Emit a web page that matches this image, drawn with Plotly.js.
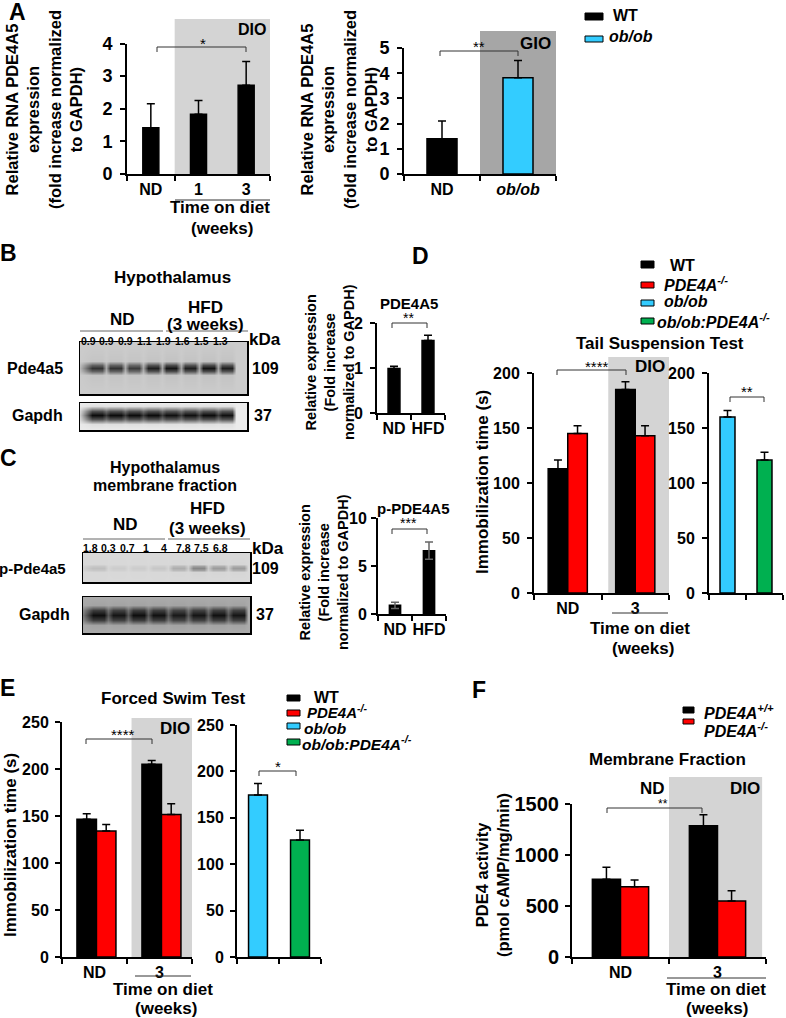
<!DOCTYPE html>
<html><head><meta charset="utf-8">
<script src="https://cdn.plot.ly/plotly-3.0.1.min.js"></script>
<style>html,body{margin:0;padding:0;background:#fff}#chart{width:786px;height:1018px}</style>
</head><body><div id="chart"></div>
<script>
// ---------------- DATA ----------------
const A_diet = ['ND', '1', '3'];
const A_dio_mean = [1.42, 1.83, 2.72];
const A_dio_sem = [0.73, 0.42, 0.73];
const A_gio_groups = ['ND', 'ob/ob'];
const A_gio_mean = [1.4, 3.82];
const A_gio_sem = [0.7, 0.68];

const B_groups = ['ND', 'HFD'];
const B_mean = [0.99, 1.61];
const B_sem = [0.05, 0.12];
const C_mean = [0.9, 6.6];
const C_sem = [0.33, 0.9];

const blotB_quant = [0.9, 0.9, 0.9, 1.1, 1.9, 1.6, 1.5, 1.3];
const blotC_quant = [1.8, 0.3, 0.7, 1, 4, 7.8, 7.5, 6.8];
const blotB_pde = [0.75, 0.75, 0.7, 0.85, 0.9, 0.85, 0.9, 0.85];
const blotB_gapdh = [0.95, 0.95, 0.95, 0.95, 0.93, 0.93, 0.95, 0.93];
const blotC_pde = [0.12, 0.06, 0.06, 0.08, 0.2, 0.38, 0.28, 0.28];
const blotC_gapdh = [0.92, 0.88, 0.92, 0.9, 0.85, 0.88, 0.9, 0.88];

const diet2 = ['ND', '3'];
const D_wt = [113, 185];   const D_wt_sem = [8, 7];
const D_ko = [145, 143];   const D_ko_sem = [7, 9];
const ob_groups = ['ob/ob', 'ob/ob:PDE4A-/-'];
const D_ob = [160, 121];   const D_ob_sem = [6, 7];

const E_wt = [146.5, 205]; const E_wt_sem = [6, 4];
const E_ko = [134, 151.5]; const E_ko_sem = [7, 11.5];
const E_ob = [174.5, 126]; const E_ob_sem = [12.5, 10.5];

const F_wt = [762, 1286];  const F_wt_sem = [118, 109];
const F_ko = [689, 548];   const F_ko_sem = [66, 102];

// ---------------- HELPERS ----------------
const W = 786, H = 1018;
const X = p => p / W, Y = p => 1 - p / H;
const FONT = '"Liberation Sans", Arial, Helvetica, sans-serif';
const BLUE = '#33ccff', RED = '#ff0000', GREEN = '#00b050', BLACK = '#000000';
const xa = k => k === 1 ? 'x' : 'x' + k;
const ya = k => k === 1 ? 'y' : 'y' + k;

const traces = [];
const layout = {
  width: W, height: H, margin: {l: 0, r: 0, t: 0, b: 0},
  paper_bgcolor: '#ffffff', plot_bgcolor: 'rgba(0,0,0,0)',
  showlegend: false, barmode: 'overlay',
  font: {family: FONT, size: 15, color: '#000', weight: 'bold'},
  shapes: [], annotations: []
};

function barTrace(k, cats, vals, sem, color, width, offset, errColor, sym) {
  return {
    type: 'bar', xaxis: xa(k), yaxis: ya(k),
    x: cats.map((c, i) => i + 0.5), y: vals, width: width, offset: offset,
    marker: {color: color, line: {color: '#000', width: 1.5}},
    error_y: sym ? {type: 'data', array: sem, symmetric: true, color: errColor || '#000', thickness: 1.5, width: 4}
                 : {type: 'data', array: sem, arrayminus: sem.map(() => 0), symmetric: false, color: errColor || '#000', thickness: 1.5, width: 4},
    hoverinfo: 'skip', showlegend: false
  };
}

const subplots = [
  {k: 1, px: [127, 270], py: [174, 43.5], yr: [0, 4], dt: 1, cats: A_diet, minor: [0, 1, 3], tf: 18, so: 4},
  {k: 2, px: [404, 556], py: [174, 48], yr: [0, 5], dt: 1, cats: A_gio_groups, minor: [0, 1, 2], tf: 18, so: 4},
  {k: 3, px: [377, 445], py: [413, 323], yr: [0, 2], dt: 1, cats: B_groups, minor: [0, 1, 2], tf: 16, so: 4},
  {k: 4, px: [378, 446], py: [614, 518], yr: [0, 10], dt: 5, cats: B_groups, minor: [0, 1, 2], tf: 16, so: 1},
  {k: 5, px: [534, 669], py: [593, 373], yr: [0, 200], dt: 50, cats: diet2, minor: [0, 1, 2], tf: 16, so: 4},
  {k: 6, px: [709, 783], py: [593, 373], yr: [0, 200], dt: 50, cats: ob_groups, hideX: true, minor: [0, 1, 2], tf: 16, so: 4},
  {k: 7, px: [62, 192], py: [957, 722], yr: [0, 250], dt: 50, cats: diet2, minor: [0, 1, 2], tf: 16, so: 3},
  {k: 8, px: [237, 321], py: [957, 725], yr: [0, 250], dt: 50, cats: ob_groups, hideX: true, minor: [0, 1, 2], tf: 16, so: 3},
  {k: 9, px: [572, 766], py: [957, 804], yr: [0, 1500], dt: 500, cats: diet2, minor: [0, 1, 2], tf: 20, so: 2}
];

subplots.forEach(s => {
  const xk = s.k === 1 ? 'xaxis' : 'xaxis' + s.k;
  const yk = s.k === 1 ? 'yaxis' : 'yaxis' + s.k;
  layout[xk] = {
    domain: [X(s.px[0]), X(s.px[1])], range: [0, s.cats.length], anchor: ya(s.k),
    showline: true, linecolor: '#000', linewidth: 2, showgrid: false, zeroline: false, fixedrange: true,
    tickmode: 'array', tickvals: s.cats.map((c, i) => i + 0.5),
    ticktext: s.cats.map(c => c.indexOf('ob/ob') === 0 ? '<i>' + c + '</i>' : c),
    showticklabels: !s.hideX, ticks: 'outside', ticklen: 0, tickcolor: '#000',
    tickfont: {family: FONT, size: 16, color: '#000', weight: 'bold'},
    minor: {tickmode: 'array', tickvals: s.minor, ticks: 'outside', ticklen: 5, tickwidth: 2, tickcolor: '#000', showgrid: false}
  };
  layout[yk] = {
    domain: [Y(s.py[0]), Y(s.py[1])], range: s.yr, anchor: xa(s.k),
    showline: true, linecolor: '#000', linewidth: 2, showgrid: false, zeroline: false, fixedrange: true,
    tickmode: 'linear', tick0: 0, dtick: s.dt, ticks: 'outside', ticklen: 5, tickwidth: 2, tickcolor: '#000',
    ticklabelstandoff: s.so,
    tickfont: {family: FONT, size: s.tf, color: '#000', weight: 'bold'}
  };
});

// ---- bars ----
traces.push(barTrace(1, A_diet, A_dio_mean, A_dio_sem, BLACK, 0.336, -0.168));
traces.push(barTrace(2, A_gio_groups, A_gio_mean, A_gio_sem, [BLACK, BLUE], 0.395, -0.1975));
traces.push(barTrace(3, B_groups, B_mean, B_sem, BLACK, 0.35, -0.175));
traces.push(barTrace(4, B_groups, C_mean, C_sem, BLACK, 0.33, -0.165, '#666', true));
traces.push(barTrace(5, diet2, D_wt, D_wt_sem, BLACK, 0.29, -0.29));
traces.push(barTrace(5, diet2, D_ko, D_ko_sem, RED, 0.29, 0));
traces.push(barTrace(6, ob_groups, D_ob, D_ob_sem, [BLUE, GREEN], 0.405, -0.2025));
traces.push(barTrace(7, diet2, E_wt, E_wt_sem, BLACK, 0.3, -0.27));
traces.push(barTrace(7, diet2, E_ko, E_ko_sem, RED, 0.3, 0.03));
traces.push(barTrace(8, ob_groups, E_ob, E_ob_sem, [BLUE, GREEN], 0.45, -0.225));
traces.push(barTrace(9, diet2, F_wt, F_wt_sem, BLACK, 0.29, -0.29));
traces.push(barTrace(9, diet2, F_ko, F_ko_sem, RED, 0.29, 0));

// ---- blots (heatmaps) ----
function blotTrace(k, lanes, bg, gapF, c, h) {
  const xs = [0], cw = [0];
  lanes.forEach((v, i) => {
    const L = 2 * i + 2;
    const nx = i < lanes.length - 1 ? lanes[i + 1] : 0;
    xs.push(L - 0.55, L + 0.55, L + 1);
    cw.push(v, v, i < lanes.length - 1 ? gapF * (v + nx) / 2 : 0);
  });
  xs.push(18); cw.push(0);
  const ys = [0, c - 1.6 * h, c - 0.8 * h, c, c + 0.8 * h, c + 1.6 * h, 1];
  const rw = [0, 0.05, 0.7, 1, 0.7, 0.05, 0];
  const z = ys.map((_, r) => cw.map(w => bg + (1 - bg) * rw[r] * w));
  return {type: 'heatmap', xaxis: xa(k), yaxis: ya(k), x: xs, y: ys, z: z, zmin: 0, zmax: 1,
    zsmooth: 'best', colorscale: [[0, '#ffffff'], [1, '#000000']], showscale: false, hoverinfo: 'skip'};
}
const blots = [
  {k: 10, px: [80, 247], py: [394, 342], xr: [0.17, 18.15], lanes: blotB_pde, bg: 0.2, gap: 0.25, c: 0.5, h: 0.08},
  {k: 11, px: [80, 247], py: [430, 403], xr: [0.17, 18.15], lanes: blotB_gapdh, bg: 0.08, gap: 0.8, c: 0.556, h: 0.2},
  {k: 12, px: [83, 250], py: [582, 553], xr: [0.5, 17.2], lanes: blotC_pde, bg: 0.15, gap: 0.2, c: 0.48, h: 0.09},
  {k: 13, px: [83, 250], py: [633, 597], xr: [0.5, 17.2], lanes: blotC_gapdh, bg: 0.33, gap: 0.55, c: 0.5, h: 0.17}
];
blots.forEach(b => {
  traces.push(blotTrace(b.k, b.lanes, b.bg, b.gap, b.c, b.h));
  const common = {showline: true, mirror: true, linecolor: '#000', linewidth: 1.5, showgrid: false,
    zeroline: false, ticks: '', showticklabels: false, fixedrange: true};
  layout['xaxis' + b.k] = Object.assign({domain: [X(b.px[0]), X(b.px[1])], range: b.xr, anchor: ya(b.k)}, common);
  layout['yaxis' + b.k] = Object.assign({domain: [Y(b.py[0]), Y(b.py[1])], range: [0, 1], anchor: xa(b.k)}, common);
});

// ---------------- SHAPES ----------------
const S = layout.shapes;
function shade(k, x0, x1, yTop, yBot, color) {
  S.push({type: 'rect', xref: xa(k), yref: 'paper', x0: x0, x1: x1, y0: Y(yBot), y1: Y(yTop),
    fillcolor: color, line: {width: 0}, layer: 'below'});
}
shade(1, 1, 3, 19, 174, '#d4d4d4');
shade(2, 1, 2, 31, 174, '#a6a6a6');
shade(5, 1.1, 2, 357, 593, '#d4d4d4');
shade(7, 1.07, 2, 718, 957, '#d4d4d4');
shade(9, 1.0, 1.96, 777, 957, '#d4d4d4');

function hline(a, b, y, color) {
  S.push({type: 'line', xref: 'paper', yref: 'paper', x0: X(a), x1: X(b), y0: Y(y), y1: Y(y),
    line: {color: color || '#333', width: 1}});
}
function bracket(a, b, y) {
  S.push({type: 'path', xref: 'paper', yref: 'paper',
    path: `M${X(a)},${Y(y + 5)} L${X(a)},${Y(y)} L${X(b)},${Y(y)} L${X(b)},${Y(y + 5)}`,
    line: {color: '#333', width: 1}});
}
function lrect(a, b, t, bt, color) {
  S.push({type: 'rect', xref: 'paper', yref: 'paper', x0: X(a), x1: X(b), y0: Y(bt), y1: Y(t),
    fillcolor: color, line: {color: '#000', width: 1}});
}
// underlines
hline(175, 270, 200); hline(612, 668, 613); hline(135, 191, 976); hline(667, 766, 978);
hline(80, 163, 331, '#666'); hline(166, 248, 331, '#666');
hline(83, 165, 539, '#666'); hline(168, 250, 539, '#666');
// brackets
bracket(157, 246, 47); bracket(440, 518, 51); bracket(392, 427, 323); bracket(392, 427, 529);
bracket(557, 626, 370); bracket(730, 764, 397); bracket(86, 152, 739); bracket(259, 296, 771);
bracket(607, 702, 808);
// legends
lrect(585, 603, 13, 20, BLACK); lrect(585, 603, 36, 42, BLUE);
lrect(641, 654, 261, 268, BLACK); lrect(641, 654, 282, 288, RED); lrect(641, 654, 300, 306, BLUE); lrect(641, 654, 318, 324, GREEN);
lrect(287, 300, 695, 701, BLACK); lrect(287, 300, 710, 716, RED); lrect(287, 300, 723, 729, BLUE); lrect(287, 300, 739, 745, GREEN);
lrect(683, 694, 707, 713, BLACK); lrect(683, 694, 719, 724, RED);

// ---------------- ANNOTATIONS ----------------
const A = layout.annotations;
function T(text, x, y, size, o) {
  o = o || {};
  A.push({text: text, x: X(x), y: Y(y), xref: 'paper', yref: 'paper', showarrow: false,
    xanchor: o.anchor || 'center', yanchor: 'middle', textangle: o.angle || 0, align: 'center',
    font: {family: FONT, size: size, color: '#000', weight: o.weight || 'bold'}});
}
// panel letters
T('A', 17, 12, 23); T('B', 8, 253, 23); T('C', 8, 458, 23); T('D', 420, 256, 23); T('E', 7, 688, 23); T('F', 479, 690, 23);
// A
const aTitle = 'Relative RNA PDE4A5<br>expression<br>(fold increase normalized<br>to GAPDH)';
T(aTitle, 44, 110, 16.5, {angle: -90});
T(aTitle, 339, 110, 16.5, {angle: -90});
T('DIO', 268, 30, 16, {anchor: 'right'});
T('GIO', 553, 43, 17, {anchor: 'right'});
T('*', 203, 43, 15, {weight: 'normal'});
T('**', 479, 46, 15, {weight: 'normal'});
T('Time on diet', 220, 208, 17); T('(weeks)', 222, 228, 17);
T('WT', 611, 15, 16, {anchor: 'left'}); T('<i>ob/ob</i>', 607, 36, 16, {anchor: 'left'});
// B
T('Hypothalamus', 172, 277, 17);
T('ND', 122, 320, 17); T('HFD', 205, 307, 17); T('(3 weeks)', 205, 324, 17);
blotB_quant.forEach((v, i) => T(String(v), 88 + i * 18.9, 341, 10.5));
T('kDa', 265, 340, 17);
T('Pde4a5', 65, 368, 16, {anchor: 'right'}); T('109', 250, 368, 16, {anchor: 'left'});
T('Gapdh', 65, 415, 16, {anchor: 'right'}); T('37', 263, 415, 16);
T('PDE4A5', 409, 303, 15); T('**', 409, 318, 14, {weight: 'normal'});
const bTitle = 'Relative expression<br>(Fold increase<br>normalized to GAPDH)';
T(bTitle, 330, 362, 14.5, {angle: -90});
// C
T('Hypothalamus', 165, 468, 16); T('membrane fraction', 165, 486, 16);
T('ND', 125, 524, 17); T('HFD', 208, 508, 17); T('(3 weeks)', 208, 528, 17);
blotC_quant.forEach((v, i) => T(String(v), 90 + i * 18.6, 548, 10.5));
T('kDa', 268, 548, 17);
T('p-Pde4a5', 68, 568, 15, {anchor: 'right'}); T('109', 250, 568, 16, {anchor: 'left'});
T('Gapdh', 72, 614, 16, {anchor: 'right'}); T('37', 265, 614, 16);
T('p-PDE4A5', 413, 508, 15); T('***', 409, 523, 14, {weight: 'normal'});
T(bTitle, 324, 572, 14.5, {angle: -90});
// D
T('WT', 668, 265, 16, {anchor: 'left'});
T('<i>PDE4A<sup>-/-</sup></i>', 662, 284, 16, {anchor: 'left'});
T('<i>ob/ob</i>', 662, 302, 16, {anchor: 'left'});
T('<i>ob/ob:PDE4A<sup>-/-</sup></i>', 655, 321, 16, {anchor: 'left'});
T('Tail Suspension Test', 660, 343, 17);
T('****', 597, 366, 15, {weight: 'normal'}); T('DIO', 667, 367, 17, {anchor: 'right'});
T('**', 747, 392, 15, {weight: 'normal'});
T('Immobilization time (s)', 482, 482, 17, {angle: -90});
T('Time on diet', 640, 628, 17); T('(weeks)', 643, 648, 17);
// E
T('Forced Swim Test', 173, 698, 17);
T('WT', 312, 697, 16, {anchor: 'left'});
T('<i>PDE4A<sup>-/-</sup></i>', 305, 711, 15, {anchor: 'left'});
T('<i>ob/ob</i>', 302, 728, 15.5, {anchor: 'left'});
T('<i>ob/ob:PDE4A<sup>-/-</sup></i>', 300, 743, 15.5, {anchor: 'left'});
T('****', 123, 734, 15, {weight: 'normal'}); T('DIO', 192, 728, 17, {anchor: 'right'});
T('*', 278, 766, 15, {weight: 'normal'});
T('Immobilization time (s)', 10, 845, 17, {angle: -90});
T('Time on diet', 163, 989, 17); T('(weeks)', 166, 1008, 17);
// F
T('<i>PDE4A<sup>+/+</sup></i>', 702, 712, 16, {anchor: 'left'});
T('<i>PDE4A<sup>-/-</sup></i>', 702, 730, 16, {anchor: 'left'});
T('Membrane Fraction', 667, 759, 17);
T('ND', 652, 788, 17); T('DIO', 745, 788, 17);
T('**', 663, 804, 12, {weight: 'normal'});
T('PDE4 activity<br>(pmol cAMP/mg/min)', 492, 875, 16.5, {angle: -90});
T('Time on diet', 716, 989, 17); T('(weeks)', 717, 1008, 17);

Plotly.newPlot('chart', traces, layout, {displayModeBar: false, staticPlot: true});
</script></body></html>
